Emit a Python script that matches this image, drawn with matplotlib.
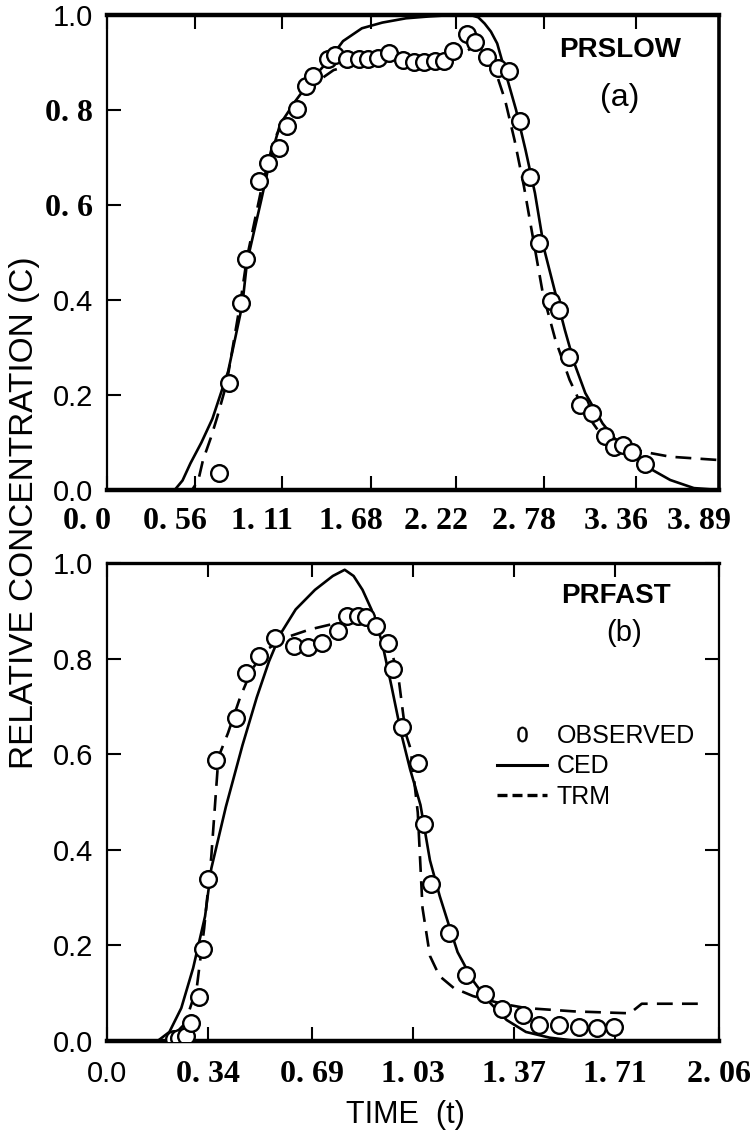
import numpy as np
import matplotlib
matplotlib.use('Agg')
import matplotlib.pyplot as plt
from matplotlib.lines import Line2D
import matplotlib.transforms as mtransforms

# ---------------- data : panel (a) PRSLOW ----------------
obs_a_x = [0.714, 0.776, 0.852, 0.886, 0.968, 1.023, 1.090, 1.145, 1.206, 1.267, 1.310,
           1.405, 1.450, 1.527, 1.600, 1.661, 1.722, 1.792, 1.884, 1.954, 2.015, 2.083,
           2.144, 2.198, 2.290, 2.342, 2.418, 2.488, 2.556, 2.626, 2.687, 2.745, 2.821,
           2.876, 2.937, 3.008, 3.081, 3.166, 3.221, 3.282, 3.340, 3.420]
obs_a_y = [0.036, 0.225, 0.394, 0.486, 0.651, 0.688, 0.721, 0.766, 0.802, 0.851, 0.872,
           0.907, 0.916, 0.907, 0.907, 0.907, 0.909, 0.919, 0.905, 0.900, 0.902, 0.903,
           0.903, 0.924, 0.959, 0.944, 0.911, 0.888, 0.883, 0.777, 0.658, 0.519, 0.398,
           0.379, 0.279, 0.179, 0.163, 0.114, 0.091, 0.095, 0.081, 0.055]

ced_a_x = [0.0, 0.43, 0.48, 0.53, 0.60, 0.67, 0.77, 0.86, 0.89, 0.98, 1.04, 1.10, 1.20,
           1.29, 1.41, 1.50, 1.62, 1.75, 1.90, 2.05, 2.20, 2.31, 2.36, 2.40, 2.44, 2.48,
           2.54, 2.60, 2.66, 2.72, 2.78, 2.85, 2.91, 2.97, 3.04, 3.15, 3.27, 3.43, 3.58,
           3.73, 3.89]
ced_a_y = [0.0, 0.0, 0.02, 0.056, 0.10, 0.15, 0.25, 0.39, 0.48, 0.61, 0.70, 0.77, 0.82,
           0.86, 0.905, 0.945, 0.972, 0.984, 0.993, 0.997, 1.0, 1.0, 0.995, 0.982, 0.965,
           0.94, 0.87, 0.80, 0.716, 0.625, 0.505, 0.414, 0.337, 0.267, 0.204, 0.14, 0.091,
           0.049, 0.021, 0.004, 0.0]

trm_a_x = [0.0, 0.54, 0.58, 0.61, 0.66, 0.70, 0.76, 0.85, 0.89, 0.98, 1.06, 1.14, 1.26,
           1.35, 1.44, 1.59, 1.75, 2.05, 2.24, 2.29, 2.33, 2.40, 2.46, 2.53, 2.59, 2.65,
           2.71, 2.77, 2.85, 2.94, 3.03, 3.12, 3.24, 3.40, 3.58, 3.89]
trm_a_y = [0.0, 0.0, 0.02, 0.063, 0.11, 0.153, 0.224, 0.40, 0.49, 0.632, 0.737, 0.786,
           0.835, 0.863, 0.884, 0.898, 0.905, 0.905, 0.912, 0.925, 0.933, 0.926, 0.891,
           0.821, 0.737, 0.639, 0.526, 0.414, 0.316, 0.232, 0.168, 0.126, 0.098, 0.081,
           0.070, 0.063]

ticks_a = [0.0, 0.56, 1.11, 1.68, 2.22, 2.78, 3.36, 3.89]
ticklabels_a = ["0. 0", "0. 56", "1. 11", "1. 68", "2. 22", "2. 78", "3. 36", "3. 89"]

# ---------------- data : panel (b) PRFAST ----------------
obs_b_x = [0.226, 0.243, 0.265, 0.283, 0.310, 0.323, 0.340, 0.367, 0.435, 0.469, 0.513,
           0.564, 0.629, 0.677, 0.723, 0.776, 0.809, 0.844, 0.873, 0.905, 0.946, 0.962,
           0.993, 1.046, 1.066, 1.090, 1.151, 1.208, 1.273, 1.329, 1.399, 1.455, 1.520,
           1.588, 1.649, 1.706]
obs_b_y = [0.004, 0.007, 0.011, 0.037, 0.092, 0.192, 0.338, 0.587, 0.675, 0.771, 0.805,
           0.844, 0.826, 0.825, 0.833, 0.857, 0.890, 0.890, 0.888, 0.869, 0.832, 0.779,
           0.658, 0.582, 0.454, 0.328, 0.226, 0.138, 0.098, 0.067, 0.054, 0.033, 0.033,
           0.030, 0.028, 0.030]

ced_b_x = [0.0, 0.17, 0.21, 0.25, 0.29, 0.33, 0.351, 0.40, 0.456, 0.504, 0.545, 0.585,
           0.635, 0.70, 0.76, 0.80, 0.83, 0.86, 0.89, 0.925, 0.957, 0.99, 1.02, 1.055,
           1.087, 1.12, 1.15, 1.18, 1.23, 1.28, 1.345, 1.41, 1.49, 1.57, 2.06]
ced_b_y = [0.0, 0.0, 0.019, 0.069, 0.153, 0.261, 0.361, 0.49, 0.619, 0.719, 0.794, 0.853,
           0.903, 0.944, 0.973, 0.986, 0.973, 0.944, 0.903, 0.836, 0.744, 0.644, 0.569,
           0.494, 0.378, 0.303, 0.244, 0.186, 0.128, 0.086, 0.044, 0.019, 0.007, 0.001,
           0.0]

trm_b_x = [0.0, 0.205, 0.262, 0.302, 0.327, 0.351, 0.375, 0.407, 0.448, 0.488, 0.537,
           0.601, 0.682, 0.763, 0.844, 0.908, 0.949, 0.981, 1.005, 1.022, 1.046, 1.062,
           1.087, 1.119, 1.167, 1.232, 1.329, 1.41, 1.572, 1.76, 1.80, 1.895, 2.00]
trm_b_y = [0.0, 0.0, 0.036, 0.111, 0.236, 0.386, 0.594, 0.644, 0.719, 0.778, 0.819,
           0.844, 0.861, 0.873, 0.879, 0.869, 0.836, 0.761, 0.644, 0.611, 0.478, 0.278,
           0.178, 0.136, 0.111, 0.094, 0.078, 0.069, 0.062, 0.058, 0.078, 0.078, 0.078]

ticks_b = [0.0, 0.34, 0.69, 1.03, 1.37, 1.71, 2.06]
ticklabels_b = ["0.0", "0. 34", "0. 69", "1. 03", "1. 37", "1. 71", "2. 06"]

yticks = [0.0, 0.2, 0.4, 0.6, 0.8, 1.0]
yticklabels_a = ["0.0", "0.2", "0.4", "0. 6", "0. 8", "1.0"]
yticklabels_b = ["0.0", "0.2", "0.4", "0.6", "0.8", "1.0"]

# ---------------- style ----------------
SANS = ['Liberation Sans', 'DejaVu Sans']
SERIF = ['Liberation Serif', 'DejaVu Serif']

fig = plt.figure(figsize=(7.5, 11.35), dpi=100)
axA = fig.add_axes([0.1427, 0.5683, 0.816, 0.4185])
axB = fig.add_axes([0.1427, 0.0828, 0.816, 0.4211])

line_kw = dict(color='black', lw=1.9)
dash_kw = dict(color='black', lw=1.9, linestyle=(0, (6, 3.5)))
mk_kw = dict(ls='none', marker='o', ms=12, mfc='white', mec='black', mew=1.7, zorder=4)

# panel a
axA.plot(ced_a_x, ced_a_y, **line_kw)
axA.plot(trm_a_x, trm_a_y, **dash_kw)
axA.plot(obs_a_x, obs_a_y, **mk_kw)
# panel b
axB.plot(ced_b_x, ced_b_y, **line_kw)
axB.plot(trm_b_x, trm_b_y, **dash_kw)
axB.plot(obs_b_x, obs_b_y, **mk_kw)


def setup(ax, xmax, xt, xtl, xfonts, ytl, yfonts, right, xpad, spine_w):
    ax.set_xlim(0, xmax)
    ax.set_ylim(0, 1.0)
    ax.set_xticks(xt)
    ax.set_xticklabels(xtl)
    ax.set_yticks(yticks)
    ax.set_yticklabels(ytl)
    ax.tick_params(axis='both', direction='in', length=10, width=1.5, top=True,
                   right=right, labelsize=21)
    ax.tick_params(axis='x', pad=xpad)
    ax.tick_params(axis='y', pad=10)
    for lab, f in zip(ax.get_xticklabels(), xfonts):
        if f == 'serif':
            lab.set_fontfamily(SERIF)
            lab.set_fontweight('bold')
            lab.set_fontsize(23)
        else:
            lab.set_fontfamily(SANS)
    for lab, f in zip(ax.get_yticklabels(), yfonts):
        if f == 'serif':
            lab.set_fontfamily(SERIF)
            lab.set_fontweight('bold')
            lab.set_fontsize(23)
        else:
            lab.set_fontfamily(SANS)
    for side, w in spine_w.items():
        ax.spines[side].set_linewidth(w)


setup(axA, 3.89, ticks_a, ticklabels_a, ['serif'] * 8, yticklabels_a,
      ['sans', 'sans', 'sans', 'serif', 'serif', 'sans'], False, 12,
      dict(top=3.2, bottom=3.2, left=1.6, right=2.6))
setup(axB, 2.06, ticks_b, ticklabels_b, ['sans'] + ['serif'] * 6, yticklabels_b,
      ['sans'] * 6, True, 14,
      dict(top=2.4, bottom=3.2, left=1.6, right=1.6))

# shift top-panel x tick labels slightly left as in the original
shift = mtransforms.ScaledTranslation(-0.2, 0, fig.dpi_scale_trans)
for lab in axA.get_xticklabels():
    lab.set_transform(lab.get_transform() + shift)

# annotations
axA.text(3.26, 0.926, 'PRSLOW', ha='center', va='center', fontsize=20,
         fontweight='bold', family=SANS)
axA.text(3.26, 0.825, '(a)', ha='center', va='center', fontsize=23, family=SANS)
axB.text(1.713, 0.931, 'PRFAST', ha='center', va='center', fontsize=20,
         fontweight='bold', family=SANS)
axB.text(1.74, 0.854, '(b)', ha='center', va='center', fontsize=21, family=SANS)

handles = [Line2D([], [], ls='none', marker='$0$', color='black', ms=11, mew=0.3),
           Line2D([], [], color='black', lw=2.2),
           Line2D([], [], color='black', lw=2.4, linestyle=(0, (3, 1.5)))]
leg = axB.legend(handles, ['OBSERVED', 'CED', 'TRM'], loc='upper left',
                 bbox_to_anchor=(0.60, 0.71), frameon=False, handlelength=2.0,
                 handletextpad=0.4, labelspacing=0.25, prop=dict(family=SANS, size=18))

fig.text(0.033, 0.548, 'RELATIVE CONCENTRATION (C)', rotation=90, ha='center',
         va='center', fontsize=24, family=SANS)
fig.text(0.541, 0.0176, 'TIME  (t)', ha='center', va='center', fontsize=22, family=SANS)

fig.savefig('out.png', dpi=100)
